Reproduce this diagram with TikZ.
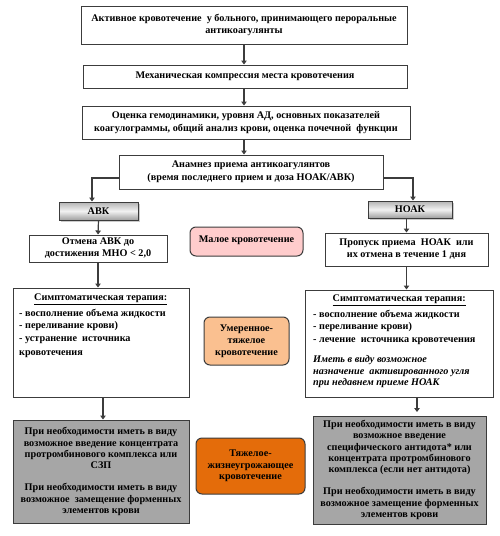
\documentclass[tikz,border=0pt]{standalone}
\usepackage{fontspec}
\setmainfont{Liberation Serif}
\usetikzlibrary{arrows.meta,shadows}
\definecolor{lineC}{RGB}{60,60,60}
\definecolor{pinkC}{RGB}{255,204,204}
\definecolor{lorangeC}{RGB}{250,192,144}
\definecolor{dorangeC}{RGB}{228,108,10}
\definecolor{grayC}{RGB}{166,166,166}
\tikzset{
  box/.style={draw=lineC, line width=1pt, fill=white, inner sep=2pt, align=center, font=\bfseries\fontsize{10.2}{12.7}\selectfont},
  hdr/.style={draw=lineC, line width=1pt, top color=gray!60, bottom color=gray!75, middle color=gray!10, drop shadow={shadow xshift=1.5pt, shadow yshift=-1.5pt, opacity=0.4}, font=\bfseries\fontsize{10.2}{11}\selectfont},
  rbox/.style={draw=lineC, line width=1pt, rounded corners=6pt, align=center, font=\bfseries\fontsize{10.2}{12}\selectfont},
  graybox/.style={draw=lineC, line width=1pt, fill=grayC, align=center, font=\bfseries\fontsize{10.2}{11.2}\selectfont},
  txt/.style={inner sep=0pt, align=left, font=\bfseries\fontsize{10.2}{12.7}\selectfont},
  itxt/.style={inner sep=0pt, align=left, font=\bfseries\itshape\fontsize{10.2}{11.5}\selectfont},
  arr/.style={draw=lineC, line width=1.2pt, -{Triangle[length=4pt,width=5.5pt]}},
}
\begin{document}
\begin{tikzpicture}[x=1pt,y=-1pt]
\useasboundingbox (0,0) rectangle (500,536);
% top chain
\node[box, minimum width=326pt, minimum height=38pt] (b1) at (244,25) {Активное кровотечение \ у больного, принимающего пероральные\\ антикоагулянты};
\node[box, minimum width=324pt, minimum height=23pt] (b2) at (245,76.5) {Механическая компрессия места кровотечения};
\node[box, minimum width=328pt, minimum height=33pt] (b3) at (246,122.5) {Оценка гемодинамики, уровня АД, основных показателей\\ коагулограммы, общий анализ крови, оценка почечной \ функции};
\node[box, minimum width=264pt, minimum height=34pt] (b4) at (251,172) {Анамнез приема антикоагулянтов\\ (время последнего прием и доза НОАК/АВК)};
\draw[arr] (b1.south -| 244,0) -- (b2.north -| 244,0);
\draw[arr] (b2.south -| 244,0) -- (b3.north -| 244,0);
\draw[arr] (b3.south -| 244,0) -- (b4.north -| 244,0);
% headers
\node[hdr, minimum width=79pt, minimum height=18pt] (abk) at (98.5,211) {АВК};
\node[hdr, minimum width=84pt, minimum height=17pt] (noak) at (410,209.5) {НОАК};
\draw[arr] (b4.west |- 0,178) -| ([xshift=-6.5pt]abk.north);
\draw[arr] (b4.east |- 0,178) -| ([xshift=3pt]noak.north);
% second level
\node[box, minimum width=138pt, minimum height=27pt, font=\bfseries\fontsize{10.2}{12}\selectfont] (otm) at (98,248.5) {Отмена АВК до\\ достижения МНО \textless\ 2,0};
\node[box, minimum width=163pt, minimum height=33pt, font=\bfseries\fontsize{10.2}{12}\selectfont] (prop) at (406.5,249.5) {Пропуск приема \ НОАК \ или\\ их отмена в течение 1 дня};
\node[rbox, fill=pinkC, minimum width=113pt, minimum height=29pt] (malo) at (246.5,241.5) {};
\node[txt] (malot) at (246.5,240) {Малое кровотечение};
\draw[arr] (abk.south) -- (otm.north);
\draw[arr] (noak.south -| prop.north) -- (prop.north);
% symptomatic
\node[box, minimum width=176pt, minimum height=109pt] (sl) at (101,342.5) {};
\node[txt, anchor=north west] (slt) at (19,293.5) {\makebox[163pt][c]{\underline{Симптоматическая терапия:}}\\[3pt]
- восполнение объема жидкости\\
- переливание крови)\\
- устранение \ источника\\[1.5pt]
кровотечения};
\node[box, minimum width=188pt, minimum height=107pt] (sr) at (399,343.5) {};
\node[txt, anchor=north west] (srt) at (313,294.5) {\makebox[172pt][c]{\underline{Симптоматическая терапия:}}\\[3pt]
- восполнение объема жидкости\\
- переливание крови)\\
- лечение \ источника кровотечения};
\node[itxt, anchor=north west] (sri) at (313,355.5) {Иметь в виду возможное\\
назначение \ активированного угля\\
при недавнем приеме НОАК};
\node[rbox, fill=lorangeC, minimum width=85pt, minimum height=48pt] (umer) at (246.5,341) {Умеренное-\\ тяжелое\\ кровотечение};
\draw[arr] (otm.south) -- (otm.south |- sl.north);
\draw[arr] (prop.south) -- (prop.south |- sr.north);
% bottom
\node[graybox, minimum width=176pt, minimum height=103pt] (gl) at (101,471.5) {При необходимости иметь в виду\\ возможное введение концентрата\\ протромбинового комплекса или\\ СЗП\\[11.2pt] При необходимости иметь в виду\\ возможное \ замещение форменных\\ элементов крови};
\node[graybox, minimum width=173pt, minimum height=108pt] (gr) at (399.5,470) {При необходимости иметь в виду\\ возможное введение\\ специфического антидота* или\\ концентрата протромбинового\\ комплекса (если нет антидота)\\[11.2pt] При необходимости иметь в виду\\ возможное замещение форменных\\ элементов крови};
\node[rbox, fill=dorangeC, minimum width=109pt, minimum height=56pt, font=\bfseries\fontsize{10.2}{11.5}\selectfont] (tyazh) at (250.5,466) {Тяжелое-\\ жизнеугрожающее\\ кровотечение};
\draw[arr] ([xshift=2pt]sl.south) -- ([xshift=2pt]sl.south |- gl.north);
\draw[arr] ([xshift=18pt]sr.south) -- ([xshift=18pt]sr.south |- 0,412);
\end{tikzpicture}
\end{document}
